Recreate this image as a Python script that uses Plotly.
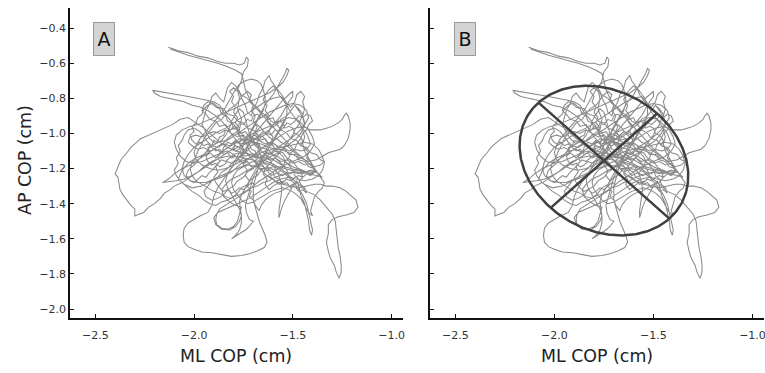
import numpy as np
import plotly.graph_objects as go

# ---- COP trajectory, in segments of (ML, AP) cm ----
seg_a = [(-2.13,-0.51),(-2.08,-0.53),(-2.03,-0.54),(-1.98,-0.56),(-1.93,-0.57),(-1.88,-0.59),(-1.84,-0.60),
         (-1.80,-0.60),(-1.77,-0.61),(-1.745,-0.60),(-1.735,-0.565),(-1.725,-0.58),(-1.73,-0.62),(-1.75,-0.65),
         (-1.76,-0.70),(-1.78,-0.75),(-1.77,-0.80),(-1.78,-0.86),(-1.76,-0.92),(-1.77,-0.98)]
seg_b = [(-1.81,-1.01),(-1.84,-1.04),(-1.88,-1.05),(-1.92,-1.08),(-1.95,-1.12),(-1.99,-1.14),(-2.03,-1.17),
         (-2.06,-1.21),(-2.08,-1.26),(-2.05,-1.29),(-2.01,-1.31),(-1.96,-1.30),(-1.91,-1.27),(-1.86,-1.25),
         (-1.81,-1.22),(-1.77,-1.18),(-1.73,-1.15),(-1.69,-1.12),(-1.65,-1.08),(-1.61,-1.05),(-1.57,-1.02),
         (-1.53,-0.99),(-1.49,-0.97),(-1.45,-0.96),(-1.41,-0.98),(-1.38,-0.98),(-1.36,-0.98)]
seg_c = [(-1.33,-0.97),(-1.30,-0.96),(-1.27,-0.94),(-1.25,-0.92),(-1.24,-0.90),(-1.23,-0.885),(-1.22,-0.90),
         (-1.21,-0.94),(-1.21,-0.98),(-1.22,-1.03),(-1.24,-1.07),(-1.26,-1.09),(-1.29,-1.10),(-1.32,-1.11),
         (-1.35,-1.13),(-1.38,-1.15),(-1.42,-1.16),(-1.46,-1.14),(-1.50,-1.12),(-1.54,-1.10),(-1.58,-1.09),
         (-1.62,-1.08),(-1.66,-1.06),(-1.70,-1.05),(-1.73,-1.03),(-1.76,-1.00),(-1.79,-0.96),(-1.82,-0.92),
         (-1.85,-0.88),(-1.87,-0.84),(-1.90,-0.82),(-1.94,-0.81),(-1.98,-0.80),(-2.03,-0.79),(-2.08,-0.78),
         (-2.13,-0.77),(-2.18,-0.76),(-2.21,-0.755)]
seg_d = [(-2.20,-0.77),(-2.17,-0.79),(-2.13,-0.80),(-2.09,-0.81),(-2.05,-0.82),(-2.01,-0.84),(-1.97,-0.85),
         (-1.93,-0.87),(-1.89,-0.90),(-1.86,-0.93),(-1.83,-0.97),(-1.80,-1.02),(-1.77,-1.06),(-1.74,-1.10),
         (-1.71,-1.14),(-1.68,-1.18),(-1.65,-1.22),(-1.62,-1.25),(-1.59,-1.27),(-1.55,-1.29),(-1.51,-1.30),
         (-1.47,-1.31),(-1.43,-1.30),(-1.39,-1.29),(-1.36,-1.29)]
seg_e = [(-1.33,-1.30),(-1.30,-1.30),(-1.26,-1.31),(-1.23,-1.33),(-1.20,-1.36),(-1.18,-1.38),(-1.17,-1.42),
         (-1.19,-1.45),(-1.23,-1.465),(-1.27,-1.475),(-1.30,-1.49),(-1.32,-1.52),(-1.32,-1.57),(-1.33,-1.62),
         (-1.32,-1.67),(-1.31,-1.71),(-1.29,-1.75),(-1.28,-1.79),(-1.265,-1.825),(-1.255,-1.79),(-1.255,-1.75),
         (-1.26,-1.70),(-1.27,-1.65),(-1.275,-1.60),(-1.28,-1.55),(-1.285,-1.50),(-1.30,-1.46),(-1.33,-1.42),
         (-1.36,-1.38),(-1.39,-1.35),(-1.43,-1.33),(-1.47,-1.29),(-1.51,-1.25),(-1.55,-1.21),(-1.59,-1.18),
         (-1.63,-1.16),(-1.67,-1.14),(-1.71,-1.12),(-1.75,-1.11),(-1.79,-1.10)]
seg_f = [(-1.83,-1.08),(-1.87,-1.05),(-1.91,-1.01),(-1.95,-0.97),(-1.99,-0.94),(-2.03,-0.91),(-2.07,-0.92),
         (-2.11,-0.95),(-2.15,-0.97),(-2.19,-0.99),(-2.23,-1.01),(-2.27,-1.03),(-2.30,-1.06),(-2.32,-1.08),
         (-2.34,-1.11),(-2.37,-1.15),(-2.385,-1.19),(-2.40,-1.23),(-2.385,-1.25),(-2.38,-1.28),(-2.375,-1.32),
         (-2.36,-1.35),(-2.34,-1.38),(-2.32,-1.41),(-2.30,-1.43),(-2.30,-1.47),(-2.28,-1.46),(-2.255,-1.45),
         (-2.23,-1.42),(-2.20,-1.40),(-2.17,-1.37),(-2.15,-1.34),(-2.12,-1.32),(-2.10,-1.30),(-2.06,-1.28),
         (-2.02,-1.25),(-1.98,-1.22),(-1.94,-1.19),(-1.90,-1.16),(-1.86,-1.13),(-1.82,-1.10),(-1.78,-1.08),
         (-1.74,-1.06),(-1.70,-1.04),(-1.66,-1.01),(-1.62,-0.98),(-1.59,-0.94),(-1.56,-0.90),(-1.54,-0.86),
         (-1.52,-0.82),(-1.50,-0.79),(-1.50,-0.76)]
seg_g = [(-1.52,-0.78),(-1.55,-0.81),(-1.58,-0.85),(-1.61,-0.89),(-1.64,-0.93),(-1.67,-0.97),(-1.70,-1.01),
         (-1.72,-1.05),(-1.74,-1.09),(-1.77,-1.13),(-1.79,-1.17),(-1.82,-1.21),(-1.85,-1.26),(-1.88,-1.31),
         (-1.90,-1.36),(-1.91,-1.41),(-1.93,-1.45),(-1.97,-1.47),(-2.00,-1.49),(-2.03,-1.51),(-2.05,-1.54),
         (-2.055,-1.58),(-2.05,-1.62),(-2.03,-1.645),(-2.00,-1.66),(-1.96,-1.675),(-1.91,-1.68),(-1.86,-1.69),
         (-1.81,-1.70),(-1.76,-1.695),(-1.72,-1.685),(-1.68,-1.67),(-1.645,-1.65),(-1.63,-1.62),(-1.64,-1.58),
         (-1.655,-1.54),(-1.67,-1.50),(-1.68,-1.46),(-1.69,-1.42),(-1.70,-1.38),(-1.70,-1.34),(-1.70,-1.30),
         (-1.69,-1.26),(-1.68,-1.22),(-1.67,-1.18),(-1.65,-1.14),(-1.63,-1.10),(-1.61,-1.06),(-1.59,-1.02),
         (-1.57,-0.98),(-1.55,-0.94),(-1.53,-0.90),(-1.51,-0.87),(-1.49,-0.84)]
seg_h = [(-1.47,-0.87),(-1.45,-0.91),(-1.44,-0.95),(-1.46,-1.00),(-1.49,-1.04),(-1.53,-1.07),(-1.57,-1.11),
         (-1.61,-1.13),(-1.65,-1.16),(-1.69,-1.19),(-1.73,-1.21),(-1.77,-1.24),(-1.81,-1.26),(-1.84,-1.29),
         (-1.86,-1.32),(-1.85,-1.36),(-1.82,-1.39),(-1.79,-1.41),(-1.76,-1.42),(-1.77,-1.46),(-1.78,-1.50),
         (-1.80,-1.53),(-1.83,-1.545),(-1.86,-1.54),(-1.885,-1.52),(-1.89,-1.49),(-1.885,-1.46),(-1.87,-1.43),
         (-1.84,-1.41),(-1.80,-1.38),(-1.76,-1.35),(-1.72,-1.32),(-1.68,-1.28),(-1.64,-1.25),(-1.60,-1.22),
         (-1.56,-1.19),(-1.52,-1.17),(-1.48,-1.15),(-1.44,-1.13),(-1.41,-1.10),(-1.39,-1.06),(-1.40,-1.02),
         (-1.42,-0.98),(-1.45,-0.95),(-1.48,-0.92),(-1.52,-0.91),(-1.56,-0.93),(-1.60,-0.95),(-1.64,-0.97),
         (-1.68,-0.99),(-1.72,-1.01),(-1.76,-1.04),(-1.80,-1.06),(-1.84,-1.09),(-1.88,-1.12),(-1.92,-1.14),
         (-1.96,-1.16),(-2.00,-1.17),(-2.04,-1.16),(-2.07,-1.13),(-2.09,-1.09),(-2.10,-1.05),(-2.09,-1.01),
         (-2.06,-0.98),(-2.02,-0.96),(-1.98,-0.95),(-1.94,-0.93),(-1.90,-0.91),(-1.86,-0.89),(-1.82,-0.87),
         (-1.78,-0.85),(-1.74,-0.83),(-1.70,-0.81),(-1.66,-0.79),(-1.62,-0.77),(-1.58,-0.74),(-1.55,-0.71),
         (-1.53,-0.67),(-1.52,-0.64),(-1.53,-0.63)]
seg_i = [(-1.54,-0.66),(-1.56,-0.70),(-1.58,-0.74),(-1.60,-0.78),(-1.63,-0.82),(-1.65,-0.86),(-1.67,-0.90),
         (-1.69,-0.94),(-1.71,-0.98),(-1.72,-1.02),(-1.70,-1.06),(-1.67,-1.09),(-1.64,-1.12),(-1.61,-1.16),
         (-1.59,-1.20),(-1.57,-1.24),(-1.56,-1.28),(-1.555,-1.32),(-1.56,-1.36),(-1.565,-1.40),(-1.57,-1.44),
         (-1.57,-1.48),(-1.565,-1.46),(-1.555,-1.42),(-1.54,-1.38),(-1.52,-1.34),(-1.50,-1.30),(-1.48,-1.27),
         (-1.47,-1.30),(-1.46,-1.35),(-1.44,-1.40),(-1.43,-1.45),(-1.42,-1.50),(-1.415,-1.55),(-1.405,-1.58),
         (-1.40,-1.55),(-1.41,-1.50),(-1.42,-1.45),(-1.43,-1.40),(-1.45,-1.35),(-1.48,-1.30),(-1.51,-1.26),
         (-1.55,-1.22),(-1.59,-1.19),(-1.63,-1.17),(-1.67,-1.16),(-1.71,-1.15),(-1.75,-1.14),(-1.79,-1.13),
         (-1.83,-1.13),(-1.87,-1.14),(-1.91,-1.16),(-1.95,-1.19),(-1.98,-1.22),(-2.01,-1.24),(-2.05,-1.26),
         (-2.09,-1.27),(-2.13,-1.275),(-2.16,-1.28)]
seg_j = [(-2.13,-1.26),(-2.10,-1.23),(-2.06,-1.20),(-2.02,-1.18),(-1.98,-1.15),(-1.94,-1.12),(-1.90,-1.09),
         (-1.86,-1.06),(-1.82,-1.03),(-1.78,-1.00),(-1.74,-0.97),(-1.70,-0.94),(-1.66,-0.91),(-1.62,-0.88),
         (-1.58,-0.86),(-1.54,-0.84),(-1.50,-0.83),(-1.46,-0.84),(-1.43,-0.87),(-1.42,-0.91),(-1.44,-0.95),
         (-1.47,-0.99),(-1.51,-1.03),(-1.55,-1.06),(-1.59,-1.09),(-1.63,-1.13),(-1.66,-1.17),(-1.68,-1.21),
         (-1.70,-1.25),(-1.71,-1.29),(-1.72,-1.33),(-1.73,-1.37),(-1.74,-1.41),(-1.735,-1.45),(-1.72,-1.49),
         (-1.70,-1.50),(-1.72,-1.53),(-1.74,-1.55),(-1.77,-1.57),(-1.80,-1.59),(-1.81,-1.60)]
seg_k = [(-1.79,-1.58),(-1.77,-1.55),(-1.76,-1.51),(-1.76,-1.47),(-1.77,-1.43),(-1.79,-1.39),(-1.81,-1.35),
         (-1.83,-1.31),(-1.84,-1.27),(-1.83,-1.23),(-1.81,-1.19),(-1.79,-1.15),(-1.77,-1.11),(-1.75,-1.07),
         (-1.73,-1.03),(-1.71,-0.99),(-1.69,-0.95),(-1.67,-0.91),(-1.65,-0.87),(-1.64,-0.83),(-1.64,-0.79),
         (-1.65,-0.75),(-1.66,-0.72),(-1.68,-0.70),(-1.71,-0.69),(-1.74,-0.70),(-1.77,-0.72),(-1.79,-0.75),
         (-1.81,-0.79),(-1.83,-0.83),(-1.85,-0.87),(-1.88,-0.91),(-1.91,-0.95),(-1.94,-0.99),(-1.97,-1.03),
         (-1.99,-1.07),(-2.00,-1.11),(-1.99,-1.15),(-1.96,-1.18),(-1.92,-1.20),(-1.88,-1.21),(-1.84,-1.20),
         (-1.80,-1.18),(-1.76,-1.16),(-1.72,-1.14),(-1.68,-1.12),(-1.64,-1.10),(-1.60,-1.09),(-1.56,-1.08),
         (-1.52,-1.07),(-1.48,-1.06),(-1.44,-1.05),(-1.40,-1.06),(-1.37,-1.09),(-1.35,-1.13),(-1.34,-1.17),
         (-1.35,-1.21),(-1.37,-1.24),(-1.40,-1.26),(-1.44,-1.27)]
seg_l = [(-1.48,-1.26),(-1.52,-1.25),(-1.56,-1.26),(-1.60,-1.28),(-1.64,-1.31),(-1.68,-1.34),(-1.72,-1.37),
         (-1.76,-1.39),(-1.80,-1.41),(-1.84,-1.43),(-1.88,-1.45),(-1.90,-1.48),(-1.89,-1.52),(-1.86,-1.545),
         (-1.82,-1.55),(-1.79,-1.53),(-1.77,-1.50),(-1.76,-1.47),(-1.765,-1.43),(-1.77,-1.39),(-1.76,-1.35),
         (-1.74,-1.31),(-1.72,-1.27),(-1.70,-1.23),(-1.68,-1.19),(-1.66,-1.15),(-1.64,-1.12),(-1.62,-1.08),
         (-1.60,-1.05),(-1.58,-1.01),(-1.56,-0.97),(-1.54,-0.93),(-1.53,-0.89),(-1.53,-0.85),(-1.54,-0.81),
         (-1.56,-0.79),(-1.60,-0.80),(-1.64,-0.82),(-1.68,-0.85),(-1.72,-0.88),(-1.76,-0.91),(-1.80,-0.94),
         (-1.84,-0.97),(-1.88,-0.99),(-1.92,-1.02),(-1.96,-1.05),(-2.00,-1.08),(-2.03,-1.12),(-2.05,-1.16),
         (-2.06,-1.20),(-2.05,-1.24),(-2.02,-1.27),(-1.98,-1.28),(-1.94,-1.28),(-1.90,-1.26),(-1.86,-1.24),
         (-1.82,-1.22),(-1.78,-1.20),(-1.74,-1.18),(-1.70,-1.16),(-1.66,-1.13),(-1.62,-1.11),(-1.58,-1.13),
         (-1.54,-1.16),(-1.50,-1.19),(-1.46,-1.21),(-1.42,-1.23),(-1.38,-1.24),(-1.35,-1.25)]
seg_n1 = [(-1.37,-1.23),(-1.39,-1.20),(-1.42,-1.19),(-1.44,-1.16),(-1.47,-1.15),(-1.49,-1.12),(-1.52,-1.12),
          (-1.54,-1.09),(-1.57,-1.09),(-1.59,-1.06),(-1.62,-1.06),(-1.64,-1.03),(-1.67,-1.04),(-1.69,-1.01),
          (-1.72,-1.02),(-1.74,-0.99),(-1.77,-1.00),(-1.79,-0.97),(-1.82,-0.98),(-1.84,-0.95),(-1.87,-0.96),
          (-1.89,-0.93),(-1.92,-0.92),(-1.94,-0.89),(-1.96,-0.87),(-1.95,-0.84),(-1.93,-0.82),(-1.90,-0.83),
          (-1.88,-0.85),(-1.85,-0.86),(-1.83,-0.89),(-1.80,-0.90),(-1.78,-0.93),(-1.75,-0.94),(-1.73,-0.97),
          (-1.70,-0.98),(-1.68,-1.01),(-1.65,-1.02),(-1.63,-1.05),(-1.60,-1.07),(-1.58,-1.10),(-1.55,-1.11),
          (-1.53,-1.14),(-1.50,-1.16),(-1.48,-1.19),(-1.46,-1.22),(-1.45,-1.25),(-1.47,-1.28),(-1.50,-1.29),
          (-1.53,-1.31),(-1.56,-1.33),(-1.59,-1.34),(-1.62,-1.36),(-1.64,-1.38),(-1.66,-1.41),(-1.67,-1.44)]
seg_n2 = [(-1.69,-1.41),(-1.70,-1.38),(-1.72,-1.36),(-1.71,-1.33),(-1.73,-1.30),(-1.72,-1.27),(-1.74,-1.24),
          (-1.73,-1.21),(-1.75,-1.18),(-1.74,-1.15),(-1.76,-1.12),(-1.75,-1.09),(-1.77,-1.06),(-1.76,-1.03),
          (-1.78,-1.00),(-1.77,-0.97),(-1.79,-0.94),(-1.78,-0.91),(-1.80,-0.88),(-1.79,-0.85),(-1.81,-0.82),
          (-1.80,-0.79),(-1.82,-0.76),(-1.80,-0.74),(-1.78,-0.76),(-1.76,-0.78),(-1.73,-0.80),(-1.71,-0.83),
          (-1.68,-0.85),(-1.66,-0.88),(-1.63,-0.90),(-1.61,-0.93),(-1.58,-0.95),(-1.56,-0.98),(-1.53,-1.00),
          (-1.51,-1.03),(-1.48,-1.04),(-1.46,-1.07),(-1.43,-1.08),(-1.41,-1.11),(-1.38,-1.12),(-1.36,-1.15),
          (-1.34,-1.16)]
seg_n3 = [(-1.36,-1.18),(-1.39,-1.19),(-1.41,-1.17),(-1.44,-1.18),(-1.47,-1.16),(-1.50,-1.17),(-1.53,-1.15),
          (-1.56,-1.16),(-1.59,-1.14),(-1.62,-1.15),(-1.65,-1.13),(-1.68,-1.14),(-1.71,-1.12),(-1.74,-1.13),
          (-1.77,-1.11),(-1.80,-1.12),(-1.83,-1.10),(-1.86,-1.11),(-1.89,-1.09),(-1.92,-1.10),(-1.95,-1.08),
          (-1.98,-1.09),(-2.01,-1.07),(-2.03,-1.05),(-2.02,-1.02),(-1.99,-1.01),(-1.96,-1.02),(-1.93,-1.00),
          (-1.90,-0.99),(-1.87,-1.00),(-1.84,-0.98),(-1.81,-1.00),(-1.78,-1.02),(-1.75,-1.01),(-1.72,-1.04),
          (-1.69,-1.05),(-1.66,-1.08),(-1.63,-1.09),(-1.60,-1.12),(-1.58,-1.15),(-1.55,-1.18),(-1.53,-1.21),
          (-1.52,-1.24),(-1.54,-1.27),(-1.57,-1.28),(-1.60,-1.30),(-1.62,-1.32)]
seg_n4 = [(-1.64,-1.29),(-1.63,-1.26),(-1.65,-1.23),(-1.64,-1.20),(-1.66,-1.17),(-1.65,-1.14),(-1.67,-1.11),
          (-1.66,-1.08),(-1.68,-1.05),(-1.67,-1.02),(-1.69,-0.99),(-1.68,-0.96),(-1.70,-0.93),(-1.69,-0.90),
          (-1.71,-0.87),(-1.70,-0.84),(-1.72,-0.81),(-1.71,-0.78),(-1.73,-0.76),(-1.75,-0.78),(-1.77,-0.81),
          (-1.79,-0.84),(-1.82,-0.86),(-1.84,-0.89),(-1.86,-0.92),(-1.89,-0.94),(-1.91,-0.97),(-1.93,-1.00),
          (-1.95,-1.03),(-1.96,-1.06),(-1.98,-1.10),(-1.99,-1.13),(-2.01,-1.17),(-2.02,-1.20),(-2.01,-1.24),
          (-1.99,-1.27),(-1.96,-1.29),(-1.93,-1.31),(-1.90,-1.33),(-1.87,-1.34),(-1.84,-1.36),(-1.81,-1.37)]
seg_n5 = [(-1.78,-1.34),(-1.76,-1.31),(-1.73,-1.29),(-1.71,-1.26),(-1.68,-1.24),(-1.66,-1.21),(-1.63,-1.19),
          (-1.61,-1.16),(-1.58,-1.13),(-1.56,-1.10),(-1.54,-1.07),(-1.52,-1.04),(-1.50,-1.01),(-1.49,-0.98),
          (-1.47,-0.95),(-1.46,-0.92),(-1.45,-0.89),(-1.47,-0.86),(-1.49,-0.84),(-1.51,-0.87),(-1.53,-0.90),
          (-1.56,-0.92),(-1.58,-0.95),(-1.61,-0.97),(-1.63,-1.00),(-1.66,-1.02),(-1.68,-1.05),(-1.71,-1.07),
          (-1.73,-1.10),(-1.76,-1.12),(-1.78,-1.15),(-1.81,-1.17),(-1.83,-1.20),(-1.86,-1.22),(-1.88,-1.25),
          (-1.91,-1.27),(-1.93,-1.30),(-1.95,-1.33),(-1.94,-1.36),(-1.91,-1.38),(-1.88,-1.37),(-1.85,-1.35)]
seg_n6 = [(-1.83,-1.32),(-1.80,-1.30),(-1.78,-1.27),(-1.75,-1.25),(-1.73,-1.22),(-1.70,-1.20),(-1.68,-1.17),
          (-1.66,-1.14),(-1.64,-1.11),(-1.63,-1.08),(-1.61,-1.05),(-1.60,-1.02),(-1.62,-0.99),(-1.61,-0.96),
          (-1.63,-0.93),(-1.62,-0.90),(-1.64,-0.87),(-1.63,-0.84),(-1.65,-0.81),(-1.64,-0.78),(-1.62,-0.75),
          (-1.60,-0.73),(-1.58,-0.75),(-1.57,-0.78),(-1.55,-0.81),(-1.53,-0.84),(-1.51,-0.88),(-1.49,-0.91),
          (-1.47,-0.94),(-1.45,-0.97),(-1.43,-1.00),(-1.42,-1.03),(-1.41,-1.06),(-1.43,-1.09),(-1.46,-1.10),
          (-1.49,-1.09),(-1.52,-1.10),(-1.55,-1.08),(-1.58,-1.07),(-1.61,-1.05),(-1.64,-1.06),(-1.67,-1.04),
          (-1.70,-1.03),(-1.73,-1.05),(-1.76,-1.06),(-1.79,-1.05),(-1.82,-1.07),(-1.85,-1.06),(-1.88,-1.08),
          (-1.91,-1.07),(-1.93,-1.05)]
seg_n7 = [(-1.95,-1.02),(-1.97,-0.99),(-2.00,-0.97),(-2.03,-0.98),(-2.05,-1.01),(-2.06,-1.04),(-2.08,-1.07),
          (-2.07,-1.10),(-2.09,-1.14),(-2.08,-1.17),(-2.10,-1.21),(-2.09,-1.24),(-2.07,-1.27),(-2.04,-1.30),
          (-2.01,-1.33),(-1.98,-1.35),(-1.95,-1.38),(-1.92,-1.40),(-1.89,-1.41),(-1.86,-1.39),(-1.83,-1.38),
          (-1.80,-1.36),(-1.77,-1.35),(-1.74,-1.33),(-1.71,-1.31),(-1.68,-1.30),(-1.65,-1.28),(-1.62,-1.27),
          (-1.59,-1.25),(-1.56,-1.24),(-1.53,-1.23),(-1.50,-1.22),(-1.47,-1.23),(-1.44,-1.22),(-1.41,-1.21),
          (-1.38,-1.22)]
seg_p1 = [(-1.40,-1.19),(-1.41,-1.16),(-1.43,-1.14),(-1.42,-1.11),(-1.44,-1.08),(-1.46,-1.07),(-1.45,-1.04),
          (-1.47,-1.01),(-1.49,-1.00),(-1.50,-0.97),(-1.52,-0.96),(-1.54,-0.97),(-1.55,-0.94),(-1.57,-0.93),
          (-1.59,-0.94),(-1.60,-0.91),(-1.62,-0.92),(-1.64,-0.90),(-1.66,-0.91),(-1.68,-0.89),(-1.70,-0.90),
          (-1.71,-0.93),(-1.73,-0.92),(-1.75,-0.95),(-1.77,-0.94),(-1.78,-0.97),(-1.80,-0.96),(-1.82,-0.99),
          (-1.84,-0.98),(-1.85,-1.01),(-1.87,-1.02),(-1.88,-1.05),(-1.90,-1.04),(-1.91,-1.07),(-1.93,-1.08),
          (-1.92,-1.11),(-1.94,-1.13),(-1.93,-1.16),(-1.91,-1.18),(-1.89,-1.17),(-1.87,-1.19),(-1.85,-1.18),
          (-1.83,-1.16),(-1.81,-1.17),(-1.79,-1.15),(-1.77,-1.16),(-1.75,-1.14),(-1.73,-1.15),(-1.71,-1.13),
          (-1.69,-1.14),(-1.67,-1.12),(-1.65,-1.13),(-1.63,-1.11),(-1.61,-1.12),(-1.59,-1.10),(-1.57,-1.11),
          (-1.55,-1.13),(-1.54,-1.16),(-1.52,-1.18),(-1.50,-1.21),(-1.49,-1.24),(-1.47,-1.26),(-1.46,-1.29),
          (-1.44,-1.31),(-1.43,-1.34)]
seg_p2 = [(-1.45,-1.32),(-1.47,-1.33),(-1.49,-1.30),(-1.51,-1.31),(-1.53,-1.28),(-1.55,-1.29),(-1.57,-1.26),
          (-1.59,-1.25),(-1.60,-1.22),(-1.62,-1.21),(-1.63,-1.18),(-1.65,-1.17),(-1.66,-1.14),(-1.68,-1.13),
          (-1.69,-1.10),(-1.71,-1.09),(-1.72,-1.06),(-1.74,-1.05),(-1.75,-1.02),(-1.77,-1.01),(-1.78,-0.98),
          (-1.80,-0.97),(-1.81,-0.94),(-1.83,-0.93),(-1.84,-0.90),(-1.86,-0.89),(-1.87,-0.86),(-1.89,-0.85),
          (-1.91,-0.83),(-1.93,-0.84),(-1.95,-0.86),(-1.96,-0.89),(-1.98,-0.91),(-1.99,-0.94),(-2.01,-0.96),
          (-2.00,-0.99),(-2.02,-1.01),(-2.01,-1.04),(-1.99,-1.06),(-1.97,-1.05),(-1.95,-1.07),(-1.93,-1.06),
          (-1.91,-1.08),(-1.89,-1.10),(-1.87,-1.09),(-1.85,-1.12),(-1.83,-1.11),(-1.81,-1.14),(-1.79,-1.13),
          (-1.77,-1.15),(-1.75,-1.17),(-1.73,-1.16),(-1.71,-1.19),(-1.69,-1.18),(-1.67,-1.20),(-1.65,-1.22),
          (-1.63,-1.21),(-1.61,-1.24),(-1.59,-1.23),(-1.57,-1.22)]
seg_p3 = [(-1.55,-1.19),(-1.54,-1.16),(-1.52,-1.14),(-1.51,-1.11),(-1.49,-1.09),(-1.48,-1.06),(-1.46,-1.03),
          (-1.45,-1.00),(-1.43,-0.98),(-1.42,-0.95),(-1.40,-0.93),(-1.41,-0.90),(-1.43,-0.89),(-1.45,-0.91),
          (-1.47,-0.90),(-1.49,-0.93),(-1.51,-0.95),(-1.53,-0.94),(-1.55,-0.97),(-1.57,-0.99),(-1.59,-0.98),
          (-1.61,-1.01),(-1.63,-1.00),(-1.65,-0.99),(-1.67,-1.01),(-1.69,-1.03),(-1.71,-1.02),(-1.73,-1.04),
          (-1.75,-1.03),(-1.77,-1.05),(-1.79,-1.04),(-1.81,-1.06),(-1.83,-1.05),(-1.85,-1.08),(-1.86,-1.11),
          (-1.88,-1.13),(-1.87,-1.16),(-1.89,-1.19),(-1.88,-1.22),(-1.90,-1.25),(-1.89,-1.28),(-1.87,-1.31),
          (-1.85,-1.33),(-1.83,-1.32),(-1.81,-1.34),(-1.79,-1.33),(-1.77,-1.31),(-1.75,-1.32),(-1.73,-1.30),
          (-1.71,-1.28),(-1.69,-1.29),(-1.67,-1.27),(-1.65,-1.26),(-1.63,-1.24),(-1.61,-1.25),(-1.59,-1.27),
          (-1.57,-1.29),(-1.55,-1.28),(-1.53,-1.26),(-1.51,-1.27),(-1.49,-1.25),(-1.47,-1.24),(-1.45,-1.25),
          (-1.43,-1.23),(-1.41,-1.24),(-1.39,-1.22)]
seg_p4 = [(-1.40,-1.19),(-1.42,-1.17),(-1.44,-1.15),(-1.46,-1.13),(-1.48,-1.12),(-1.50,-1.10),(-1.52,-1.08),
          (-1.54,-1.06),(-1.56,-1.05),(-1.58,-1.03),(-1.60,-1.04),(-1.62,-1.02),(-1.64,-1.00),(-1.66,-0.97),
          (-1.68,-0.95),(-1.70,-0.96),(-1.71,-0.99),(-1.73,-1.01),(-1.74,-1.04),(-1.76,-1.06),(-1.77,-1.09),
          (-1.79,-1.10),(-1.80,-1.08),(-1.79,-1.05),(-1.77,-1.03),(-1.75,-1.04),(-1.73,-1.07),(-1.72,-1.10),
          (-1.70,-1.12),(-1.68,-1.11),(-1.67,-1.08),(-1.69,-1.06),(-1.71,-1.05),(-1.73,-1.08),(-1.74,-1.11),
          (-1.76,-1.13),(-1.78,-1.14),(-1.80,-1.12),(-1.82,-1.14),(-1.84,-1.16),(-1.86,-1.15),(-1.88,-1.17),
          (-1.90,-1.20),(-1.92,-1.22),(-1.94,-1.25),(-1.96,-1.24),(-1.98,-1.26),(-2.00,-1.28),(-2.02,-1.27),
          (-2.04,-1.24),(-2.03,-1.21),(-2.01,-1.19),(-1.99,-1.17),(-1.97,-1.14),(-1.95,-1.12),(-1.93,-1.10),
          (-1.91,-1.12),(-1.89,-1.14),(-1.87,-1.12),(-1.85,-1.10),(-1.83,-1.08),(-1.81,-1.09),(-1.79,-1.07),
          (-1.77,-1.08),(-1.75,-1.10),(-1.73,-1.12),(-1.71,-1.14),(-1.69,-1.16),(-1.67,-1.18),(-1.65,-1.19),
          (-1.63,-1.21),(-1.61,-1.20),(-1.59,-1.21),(-1.57,-1.23),(-1.55,-1.24),(-1.53,-1.22),(-1.51,-1.23),
          (-1.49,-1.21),(-1.47,-1.20),(-1.45,-1.21),(-1.43,-1.22),(-1.41,-1.21),(-1.38,-1.22)]
seg_q = [(-1.40,-1.18),(-1.42,-1.14),(-1.44,-1.10),(-1.45,-1.06),(-1.44,-1.02),(-1.45,-0.98),(-1.44,-0.94),
         (-1.45,-0.90),(-1.44,-0.86),(-1.45,-0.82),(-1.44,-0.79),(-1.46,-0.76),(-1.48,-0.78),(-1.49,-0.82),
         (-1.51,-0.85),(-1.53,-0.83),(-1.55,-0.79),(-1.57,-0.76),(-1.59,-0.73),(-1.61,-0.70),(-1.62,-0.67),
         (-1.64,-0.70),(-1.65,-0.74),(-1.67,-0.78),(-1.68,-0.82),(-1.70,-0.86),(-1.71,-0.90),(-1.73,-0.88),
         (-1.74,-0.84),(-1.76,-0.80),(-1.77,-0.76),(-1.79,-0.73),(-1.81,-0.71),(-1.83,-0.74),(-1.84,-0.78),
         (-1.85,-0.82),(-1.87,-0.80),(-1.89,-0.77),(-1.91,-0.79),(-1.92,-0.83),(-1.94,-0.87),(-1.95,-0.91),
         (-1.96,-0.95),(-1.94,-0.99),(-1.92,-1.03),(-1.89,-1.06),(-1.86,-1.04),(-1.84,-1.01),(-1.82,-0.97),
         (-1.81,-0.93),(-1.79,-0.89),(-1.77,-0.86),(-1.75,-0.88),(-1.74,-0.92),(-1.73,-0.96),(-1.72,-1.00),
         (-1.70,-1.04),(-1.68,-1.07),(-1.66,-1.10),(-1.63,-1.13),(-1.60,-1.15),(-1.57,-1.17),(-1.54,-1.19),
         (-1.51,-1.20),(-1.48,-1.21),(-1.45,-1.22),(-1.42,-1.23),(-1.38,-1.22)]
seg_r = [(-1.36,-1.25),(-1.34,-1.28),(-1.35,-1.31),(-1.37,-1.33),(-1.39,-1.36),(-1.40,-1.40),(-1.41,-1.44),
         (-1.40,-1.47),(-1.42,-1.45),(-1.44,-1.41),(-1.46,-1.37),(-1.49,-1.34),(-1.52,-1.32),(-1.55,-1.31),
         (-1.58,-1.32),(-1.61,-1.33),(-1.64,-1.35),(-1.67,-1.37),(-1.70,-1.39),(-1.73,-1.40),(-1.76,-1.38),
         (-1.78,-1.35),(-1.80,-1.32),(-1.81,-1.28),(-1.80,-1.24),(-1.78,-1.21),(-1.75,-1.19),(-1.72,-1.18),
         (-1.69,-1.19),(-1.66,-1.20),(-1.63,-1.20),(-1.60,-1.19),(-1.57,-1.19),(-1.54,-1.20),(-1.51,-1.21),
         (-1.48,-1.22),(-1.45,-1.23),(-1.42,-1.22),(-1.38,-1.22)]
seg_m = [(-1.38,-1.22),(-1.41,-1.18),(-1.45,-1.14),(-1.49,-1.10),(-1.53,-1.05),(-1.57,-1.00),(-1.61,-0.95),
         (-1.65,-0.90),(-1.69,-0.85),(-1.72,-0.80),(-1.74,-0.75),(-1.75,-0.70),(-1.76,-0.66),(-1.79,-0.64),
         (-1.83,-0.62),(-1.88,-0.60),(-1.93,-0.585),(-1.98,-0.57),(-2.03,-0.555),(-2.08,-0.535),(-2.12,-0.52)]

segments = [seg_a, seg_b, seg_c, seg_d, seg_e, seg_f, seg_g, seg_h, seg_i, seg_j, seg_k, seg_l,
            seg_n1, seg_n2, seg_n3, seg_n4, seg_n5, seg_n6, seg_n7, seg_p1, seg_p2, seg_p3, seg_p4,
            seg_q, seg_r, seg_m]

# ---- 95% confidence ellipse (panel B) ----
ellipse_center = (-1.75, -1.155)
ellipse_semi_major = 0.467
ellipse_semi_minor = 0.380
ellipse_angle_deg = -45.0

# ---- axes ----
x_ticks = [-2.5, -2.0, -1.5, -1.0]
y_ticks = [-0.4, -0.6, -0.8, -1.0, -1.2, -1.4, -1.6, -1.8, -2.0]
x_range = [-2.628, -0.942]
y_range = [-2.051, -0.286]
panel_labels = ["A", "B"]
x_title = "ML COP (cm)"
y_title = "AP COP (cm)"

ml = [p[0] for s in segments for p in s]
ap = [p[1] for s in segments for p in s]

th = np.radians(ellipse_angle_deg)
t = np.linspace(0, 2 * np.pi, 361)
cx, cy = ellipse_center
ex = cx + ellipse_semi_major * np.cos(t) * np.cos(th) - ellipse_semi_minor * np.sin(t) * np.sin(th)
ey = cy + ellipse_semi_major * np.cos(t) * np.sin(th) + ellipse_semi_minor * np.sin(t) * np.cos(th)
maj_x = [cx - ellipse_semi_major * np.cos(th), cx + ellipse_semi_major * np.cos(th)]
maj_y = [cy - ellipse_semi_major * np.sin(th), cy + ellipse_semi_major * np.sin(th)]
min_x = [cx + ellipse_semi_minor * np.sin(th), cx - ellipse_semi_minor * np.sin(th)]
min_y = [cy - ellipse_semi_minor * np.cos(th), cy + ellipse_semi_minor * np.cos(th)]

FONT = "DejaVu Sans"
traj_style = dict(color="#8a8a8a", width=1.05)
ell_style = dict(color="#404040", width=2.5)

fig = go.Figure()
fig.add_trace(go.Scatter(x=ml, y=ap, mode="lines", line=traj_style, xaxis="x", yaxis="y", showlegend=False))
fig.add_trace(go.Scatter(x=ml, y=ap, mode="lines", line=traj_style, xaxis="x2", yaxis="y2", showlegend=False))
fig.add_trace(go.Scatter(x=ex, y=ey, mode="lines", line=ell_style, xaxis="x2", yaxis="y2", showlegend=False))
fig.add_trace(go.Scatter(x=maj_x, y=maj_y, mode="lines", line=ell_style, xaxis="x2", yaxis="y2", showlegend=False))
fig.add_trace(go.Scatter(x=min_x, y=min_y, mode="lines", line=ell_style, xaxis="x2", yaxis="y2", showlegend=False))

W, H = 765, 373
def fx(px):
    return px / W
def fy(py):
    return (H - py) / H

tickfont = dict(family=FONT, size=11, color="#333")
xcommon = dict(range=x_range, tickvals=x_ticks, ticktext=[f"\u2212{abs(v):.1f}" for v in x_ticks],
               ticks="inside", ticklen=4, tickwidth=1.2, tickcolor="#111", showline=True, linecolor="#111",
               linewidth=1.6, showgrid=False, zeroline=False, automargin=False, tickfont=tickfont,
               ticklabelstandoff=6, ticklabeloverflow="allow")
ycommon = dict(range=y_range, tickvals=y_ticks, ticks="inside", ticklen=4, tickwidth=1.2, tickcolor="#111",
               showline=True, linecolor="#111", linewidth=1.6, showgrid=False, zeroline=False, automargin=False,
               domain=[fy(318), fy(8)])

fig.update_layout(
    width=W, height=H, margin=dict(l=0, r=0, t=0, b=0),
    paper_bgcolor="white", plot_bgcolor="white",
    xaxis=dict(xcommon, domain=[fx(70), fx(403)], anchor="y"),
    yaxis=dict(ycommon, anchor="x", ticktext=[f"\u2212{abs(v):.1f}" for v in y_ticks], tickfont=tickfont),
    xaxis2=dict(xcommon, domain=[fx(430), fx(764)], anchor="y2"),
    yaxis2=dict(ycommon, anchor="x2", showticklabels=False),
)

title_font = dict(family=FONT, size=17.4, color="#222")
for cxp in [236, 597]:
    fig.add_annotation(x=fx(cxp), y=fy(356), xref="paper", yref="paper", text=x_title, showarrow=False,
                       xanchor="center", yanchor="middle", font=title_font)
fig.add_annotation(x=fx(25), y=fy(160), xref="paper", yref="paper", text=y_title, showarrow=False,
                   xanchor="center", yanchor="middle", textangle=-90, font=title_font)

for lab, px in zip(panel_labels, [104, 465]):
    fig.add_annotation(x=fx(px), y=fy(39), xref="paper", yref="paper", text=lab, showarrow=False,
                       xanchor="center", yanchor="middle",
                       font=dict(family=FONT, size=19, color="#111"), bgcolor="#d4d4d4",
                       bordercolor="#9a9a9a", borderwidth=1, width=20, height=32, borderpad=0)

fig.write_html("out.html")
